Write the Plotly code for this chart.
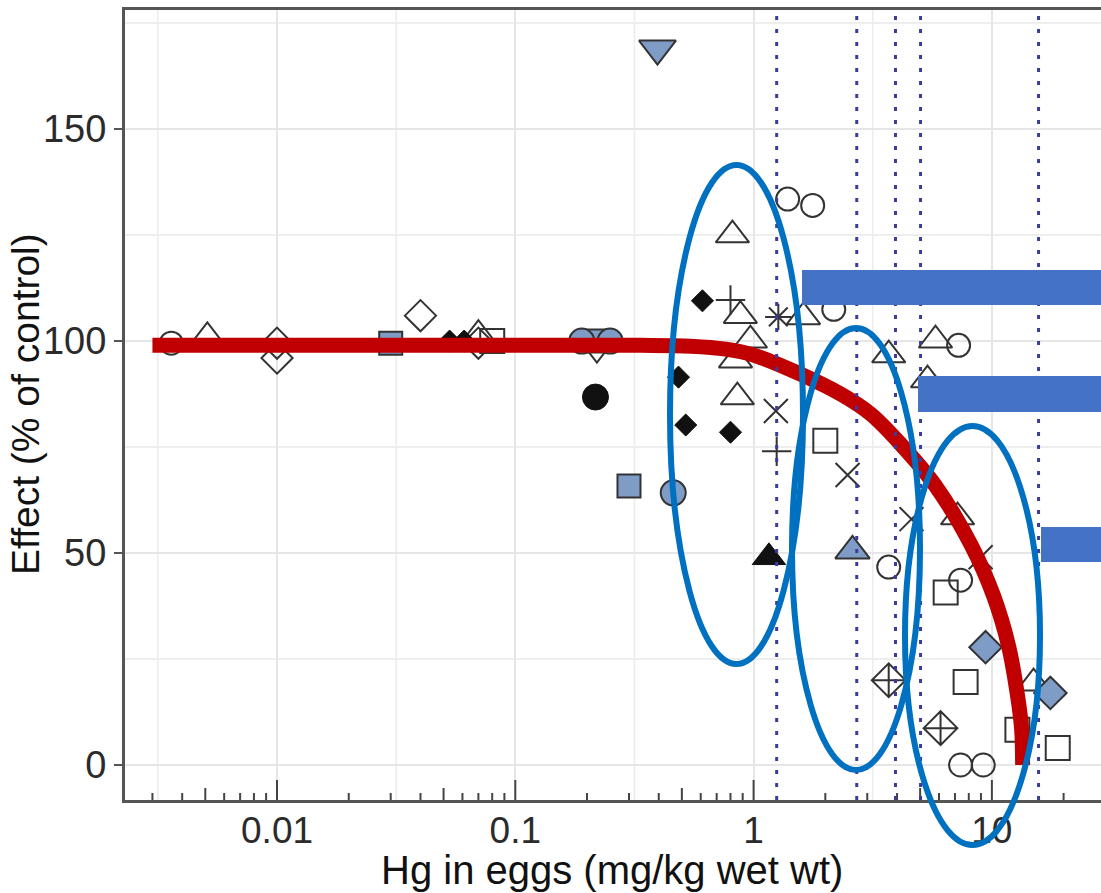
import math
import plotly.graph_objects as go

# ---------------- data ----------------
open_circle_x = [0.0036, 1.39, 1.77, 2.17, 3.69, 7.25, 7.39, 7.39, 9.2]
open_circle_y = [99.5, 133.5, 132, 107.5, 46.7, 99, 43.6, 0, 0]

open_triangle_x = [0.0051, 0.07, 0.815, 0.88, 0.97, 0.84, 0.855, 1.62, 3.69, 5.8, 5.37, 7.18, 14.96]
open_triangle_y = [101, 101.5, 125, 106, 100.2, 95.5, 86.8, 105.7, 96.7, 100.2, 90.8, 58.5, 19.3]

open_diamond_x = [0.01, 0.01, 0.04, 0.07]
open_diamond_y = [99.5, 96, 106, 99.5]

open_square_x = [0.08, 2.0, 6.4, 7.76, 12.8, 18.9]
open_square_y = [100, 76.5, 40.7, 19.6, 8.3, 4]

open_x_x = [1.24, 2.48, 4.6, 8.97]
open_x_y = [83.5, 68.4, 58, 49]

open_plus_x = [0.8, 1.25]
open_plus_y = [109.7, 74]

open_asterisk_x = [1.27]
open_asterisk_y = [105.7]

open_crossdiamond_x = [3.69, 6.09]
open_crossdiamond_y = [20, 8.7]

open_tridown_x = [0.22]
open_tridown_y = [98]

black_diamond_x = [0.053, 0.061, 0.61, 0.484, 0.519, 0.80]
black_diamond_y = [100, 100, 109.5, 91.5, 80.2, 78.5]

black_circle_x = [0.217]
black_circle_y = [86.8]

black_triangle_x = [1.16]
black_triangle_y = [49]

blue_tridown_x = [0.395]
blue_tridown_y = [169]

blue_square_x = [0.03, 0.215, 0.30]
blue_square_y = [99.5, 100, 65.8]

blue_circle_x = [0.19, 0.25, 0.46]
blue_circle_y = [100, 100, 64.2]

blue_triangle_x = [2.6]
blue_triangle_y = [50.5]

blue_diamond_x = [9.41, 17.6]
blue_diamond_y = [27.8, 17]

fit_x = [0.003, 0.1, 0.336, 0.544, 0.763, 1.0, 1.575, 2.32, 3.10, 4.14, 5.81, 8.22, 10.17, 11.75, 12.82, 13.33, 13.46]
fit_y = [99, 99, 99, 98.8, 98.1, 96.7, 92.2, 87.5, 82.8, 75.7, 65.8, 51.7, 39.9, 28.1, 16.3, 8.5, 0]

threshold_x = [1.25, 2.71, 3.94, 5.02, 15.7]

x_tick_vals = [0.01, 0.1, 1, 10]
x_tick_text = ["0.01", "0.1", "1", "10"]
y_tick_vals = [0, 50, 100, 150]

# ---------------- layout geometry ----------------
W, H = 1101, 893
ML, MT, MB, MR = 125, 10, 93, 0
PW, PH = W - ML - MR, H - MT - MB
X_RANGE = [-2.638, 1.458]
Y_RANGE = [-8.25, 178.1]


def px(xp):
    return (xp - ML) / PW


def py(yp):
    return (H - MB - yp) / PH


OUT = "#333333"
BLUE_FILL = "#7f9cc6"

fig = go.Figure()


def add(x, y, symbol, size, color, line_color=None, line_width=2):
    fig.add_trace(go.Scatter(
        x=x, y=y, mode="markers", showlegend=False, hoverinfo="skip",
        marker=dict(symbol=symbol, size=size, color=color,
                    line=dict(color=line_color if line_color else color, width=line_width)),
    ))


# open markers
add(open_circle_x, open_circle_y, "circle-open", 23, OUT)
add(open_triangle_x, open_triangle_y, "triangle-up-open", 29, OUT)
add(open_diamond_x, open_diamond_y, "diamond-open", 24, OUT)
add(open_square_x, open_square_y, "square-open", 24, OUT)
add(open_x_x, open_x_y, "x-thin-open", 24, OUT)
add(open_plus_x, open_plus_y, "cross-thin-open", 21, OUT)
add(open_asterisk_x, open_asterisk_y, "asterisk-open", 22, OUT)
add(open_crossdiamond_x, open_crossdiamond_y, "diamond-cross-open", 26, OUT)
add(open_tridown_x, open_tridown_y, "triangle-down-open", 26, OUT)
# black filled
add(black_diamond_x, black_diamond_y, "diamond", 17, "#111111", "#111111", 1)
add(black_circle_x, black_circle_y, "circle", 26, "#111111", "#111111", 1)
add(black_triangle_x, black_triangle_y, "triangle-up", 29, "#111111", "#111111", 1)
# blue filled
add(blue_tridown_x, blue_tridown_y, "triangle-down", 32, BLUE_FILL, OUT, 2)
add(blue_square_x, blue_square_y, "square", 23, BLUE_FILL, OUT, 2)
add(blue_circle_x, blue_circle_y, "circle", 25, BLUE_FILL, OUT, 2)
add(blue_triangle_x, blue_triangle_y, "triangle-up", 30, BLUE_FILL, OUT, 2)
add(blue_diamond_x, blue_diamond_y, "diamond", 25, BLUE_FILL, OUT, 2)

# fitted curve
fig.add_trace(go.Scatter(
    x=fit_x, y=fit_y, mode="lines", showlegend=False, hoverinfo="skip",
    line=dict(color="#c00000", width=15, shape="spline", smoothing=1.0),
))

shapes = []
# minor x grid lines at half decades
for k in range(-3, 2):
    v = 10 ** (k + 0.5)
    if X_RANGE[0] < math.log10(v) < X_RANGE[1]:
        shapes.append(dict(type="line", xref="x", yref="paper", x0=v, x1=v, y0=0, y1=1,
                           layer="below", line=dict(color="#ececec", width=1.5)))
# log ticks along bottom
for k in range(-3, 2):
    for m in range(1, 10):
        v = m * 10 ** k
        lv = math.log10(v)
        if not (X_RANGE[0] < lv < X_RANGE[1]):
            continue
        ln = 20 if m == 1 else (12 if m == 5 else 7)
        shapes.append(dict(type="line", xref="x", yref="paper", x0=v, x1=v, y0=0, y1=ln / PH,
                           line=dict(color="#444444", width=2)))
# dotted threshold lines
for v in threshold_x:
    shapes.append(dict(type="line", xref="x", yref="paper", x0=v, x1=v, y0=0, y1=0.997,
                       line=dict(color="#3b3b9e", width=3, dash="4px,9px")))
# ellipses
for (x0, y0, x1, y1) in [(670, 165, 803, 664), (792, 328, 920, 770), (905, 426, 1040, 845)]:
    shapes.append(dict(type="circle", xref="paper", yref="paper",
                       x0=px(x0), x1=px(x1), y0=py(y1), y1=py(y0),
                       line=dict(color="#0070c0", width=6), fillcolor="rgba(0,0,0,0)"))
# blue bars
for (x0, y0, x1, y1) in [(802, 270, 1101, 305), (918, 376, 1101, 412), (1041, 527, 1101, 562)]:
    shapes.append(dict(type="rect", xref="paper", yref="paper",
                       x0=px(x0), x1=px(x1), y0=py(y1), y1=py(y0),
                       line=dict(width=0), fillcolor="#4472c4"))

FONT = "Liberation Sans, Arial, Helvetica, sans-serif"

fig.update_layout(
    width=W, height=H,
    margin=dict(l=ML, r=MR, t=MT, b=MB, pad=0),
    paper_bgcolor="white", plot_bgcolor="white",
    font=dict(family=FONT, color="#333333"),
    shapes=shapes,
    xaxis=dict(
        type="log", range=X_RANGE, tickmode="array", tickvals=x_tick_vals, ticktext=x_tick_text,
        ticks="", showgrid=True, gridcolor="#e6e6e6", gridwidth=2,
        showline=True, linecolor="#555555", linewidth=3, mirror=True,
        tickfont=dict(size=37, color="#2b2b2b"), ticklabelstandoff=-4,
        zeroline=False, automargin=False,
    ),
    yaxis=dict(
        range=Y_RANGE, tickmode="array", tickvals=y_tick_vals,
        ticks="outside", ticklen=8, tickwidth=2, tickcolor="#555555",
        showgrid=True, gridcolor="#e6e6e6", gridwidth=2,
        minor=dict(dtick=25, showgrid=True, gridcolor="#eeeeee", gridwidth=1.5),
        showline=True, linecolor="#555555", linewidth=3, mirror=True,
        tickfont=dict(size=38, color="#2b2b2b"),
        zeroline=False, automargin=False,
    ),
    annotations=[
        dict(text="Hg in eggs (mg/kg wet wt)", xref="paper", yref="paper",
             x=px(612), y=py(870), xanchor="center", yanchor="middle", showarrow=False,
             font=dict(size=40, color="#111111", family=FONT)),
        dict(text="Effect (% of control)", xref="paper", yref="paper",
             x=px(25), y=py(404), xanchor="center", yanchor="middle", showarrow=False,
             textangle=-90, font=dict(size=39, color="#111111", family=FONT)),
    ],
)

fig.write_html("out.html", config={"displayModeBar": False})
